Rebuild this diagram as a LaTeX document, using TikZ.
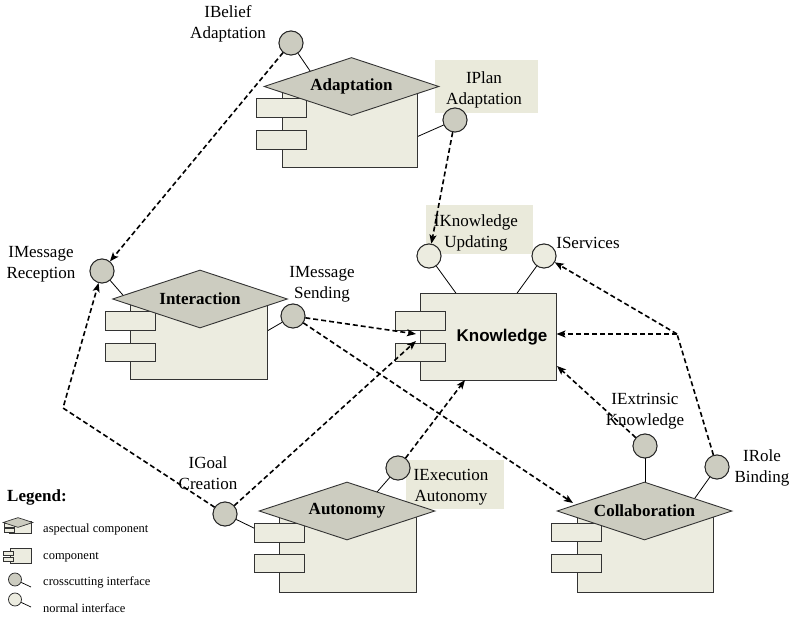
\documentclass[tikz,border=0pt]{standalone}
\usepackage{fontspec}
\setmainfont{Liberation Serif}
\newfontfamily\knowfont{Liberation Sans}
\usetikzlibrary{shapes.geometric,arrows.meta}

\definecolor{compfill}{RGB}{236,236,224}
\definecolor{aspfill}{RGB}{204,204,192}
\definecolor{boxfill}{RGB}{234,234,219}

\tikzset{
  lbl/.style={font=\fontsize{17}{21}\selectfont, align=center, inner sep=0pt},
  legtxt/.style={font=\fontsize{12.5}{15}\selectfont, anchor=west, inner sep=0pt},
  body/.style={draw=black!80, line width=0.9pt, fill=compfill, inner sep=0pt},
  port/.style={draw=black!80, line width=0.9pt, fill=compfill, inner sep=0pt,
               minimum width=50pt, minimum height=18.5pt},
  aspect roof/.style={diamond, aspect=3, draw=black!80, line width=0.9pt, fill=aspfill,
               inner sep=0pt, minimum width=175pt, minimum height=58pt,
               font=\fontsize{17}{21}\selectfont\bfseries},
  xiface/.style={circle, draw=black!85, line width=0.9pt, fill=aspfill,
               minimum size=24pt, inner sep=0pt},
  niface/.style={circle, draw=black!85, line width=0.9pt, fill=compfill,
               minimum size=24pt, inner sep=0pt},
  stub/.style={draw=black, line width=0.8pt},
  namebox/.style={fill=boxfill, inner sep=0pt},
  dep/.style={line width=1.6pt, dash pattern=on 5pt off 3pt,
              -{Stealth[length=9pt,width=7pt,inset=2pt]}},
  depline/.style={line width=1.6pt, dash pattern=on 5pt off 3pt},
}

\begin{document}
\begin{tikzpicture}[x=1pt,y=-1pt]
\useasboundingbox (0,0) rectangle (792,617);

% shaded name boxes behind some interface labels
\node[namebox, minimum width=103pt, minimum height=53pt] (bplan) at (486.5,86.5) {};
\node[namebox, minimum width=107pt, minimum height=49pt] (bknow) at (479.5,229.5) {};
\node[namebox, minimum width=98pt, minimum height=49pt] (bexec) at (455,484.5) {};

% interface circles (placed first so the stubs can refer to them)
\node[xiface] (bel)   at (291,43)  {};
\node[xiface] (ipl)   at (455,120) {};
\node[xiface] (mrec)  at (102,271) {};
\node[xiface] (msend) at (293,316) {};
\node[niface] (ikn)   at (429,256) {};
\node[niface] (isv)   at (544,256) {};
\node[xiface] (igoal) at (225,514) {};
\node[xiface] (iex)   at (398,468) {};
\node[xiface] (iext)  at (645,446) {};
\node[xiface] (irole) at (717,467) {};

% stubs joining interfaces to their components (ends hidden below the bodies)
\draw[stub] (bel)   -- (321,87);
\draw[stub] (ipl)   -- (412,139);
\draw[stub] (mrec)  -- (135,309);
\draw[stub] (msend) -- (262,334);
\draw[stub] (ikn)   -- (458,296);
\draw[stub] (isv)   -- (515,296);
\draw[stub] (igoal) -- (260,531);
\draw[stub] (iex)   -- (370,500);
\draw[stub] (iext)  -- (645,490);
\draw[stub] (irole) -- (690,505);

% Adaptation
\node[body, minimum width=135pt, minimum height=80pt] (adaB) at (349.5,127) {};
\node[port] (adaP1) at (281,108) {};
\node[port] (adaP2) at (281,140) {};
\node[aspect roof] (adaD) at (351.5,86.5) {Adaptation};

% Interaction
\node[body, minimum width=137pt, minimum height=80pt] (intB) at (198.5,339) {};
\node[port] (intP1) at (130.5,321) {};
\node[port] (intP2) at (130.5,352.5) {};
\node[aspect roof] (intD) at (200,299) {Interaction};

% Knowledge
\node[body, minimum width=136pt, minimum height=87pt] (knB) at (488,336.5) {};
\node[port] (knP1) at (420,321) {};
\node[port] (knP2) at (420,352.5) {};
\node[font=\fontsize{17}{21}\selectfont\knowfont\bfseries, inner sep=0pt] (knL) at (502,337) {Knowledge};

% Autonomy
\node[body, minimum width=137pt, minimum height=81pt] (autB) at (347.5,551.5) {};
\node[port] (autP1) at (279.5,533) {};
\node[port] (autP2) at (279.5,563.5) {};
\node[aspect roof, minimum width=176pt] (autD) at (347,511) {Autonomy};

% Collaboration
\node[body, minimum width=136pt, minimum height=81pt] (colB) at (645,551.5) {};
\node[port] (colP1) at (576.5,532.5) {};
\node[port] (colP2) at (576.5,563.5) {};
\node[aspect roof] (colD) at (644.5,511) {Collaboration};

% redraw circles above the bodies
\foreach \n/\s in {bel/xiface,ipl/xiface,mrec/xiface,msend/xiface,ikn/niface,
                   isv/niface,igoal/xiface,iex/xiface,iext/xiface,irole/xiface}
  \node[\s] at (\n) {};

% interface labels
\node[lbl] (tbel)   at (228,24)    {IBelief\\Adaptation};
\node[lbl] (tplan)  at (484,90)    {IPlan\\Adaptation};
\node[lbl] (tmrec)  at (41,264)    {IMessage\\Reception};
\node[lbl] (tmsend) at (322,284.5) {IMessage\\Sending};
\node[lbl] (tknow)  at (476,233)   {IKnowledge\\Updating};
\node[lbl] (tserv)  at (588,243)   {IServices};
\node[lbl] (text)   at (645,411)   {IExtrinsic\\Knowledge};
\node[lbl] (trole)  at (762,467.5) {IRole\\Binding};
\node[lbl] (tgoal)  at (208,473)   {IGoal\\Creation};
\node[lbl] (texec)  at (451,487.5) {IExecution\\Autonomy};

% dependency connectors
\coordinate (bendL) at (63,408);
\coordinate (J)     at (677,334);
\coordinate (kin1)  at (416,334);
\coordinate (kin2)  at (416,341);
\coordinate (kbot)  at (465,380);
\coordinate (kext)  at (557,366);
\coordinate (cin)   at (573,503);

\draw[dep] (bel) -- (mrec);
\draw[dep] (ipl) -- (ikn);
\draw[dep] (igoal) -- (bendL) -- (mrec);
\draw[dep] (msend) -- (kin1);
\draw[dep] (igoal) -- (kin2);
\draw[dep] (msend) -- (cin);
\draw[dep] (iex) -- (kbot);
\draw[dep] (iext) -- (kext);
\draw[depline] (irole) -- (J);
\draw[dep] (J) -- (J -| knB.east);
\draw[dep] (J) -- (isv);

% legend
\node[font=\fontsize{17}{21}\selectfont\bfseries, anchor=west, inner sep=0pt] (legT) at (7,497) {Legend:};

% aspectual component symbol
\node[draw=black!80, line width=0.7pt, fill=compfill, inner sep=0pt,
      minimum width=22pt, minimum height=12pt] (legA) at (20,527) {};
\node[draw=black!80, line width=0.7pt, fill=compfill, inner sep=0pt,
      minimum width=10pt, minimum height=4pt] (legA1) at (9,525) {};
\node[draw=black!80, line width=0.7pt, fill=compfill, inner sep=0pt,
      minimum width=10pt, minimum height=4pt] (legA2) at (9,530) {};
\node[diamond, aspect=3, draw=black!80, line width=0.7pt, fill=aspfill, inner sep=0pt,
      minimum width=30pt, minimum height=10pt] (legAD) at (18,522.5) {};
\node[legtxt] (legAt) at (43,529) {aspectual component};

% component symbol
\node[draw=black!80, line width=0.7pt, fill=compfill, inner sep=0pt,
      minimum width=21pt, minimum height=15pt] (legC) at (20.5,555.5) {};
\node[draw=black!80, line width=0.7pt, fill=compfill, inner sep=0pt,
      minimum width=10pt, minimum height=4pt] (legC1) at (8,553) {};
\node[draw=black!80, line width=0.7pt, fill=compfill, inner sep=0pt,
      minimum width=10pt, minimum height=4pt] (legC2) at (8,559) {};
\node[legtxt] (legCt) at (43,557) {component};

% crosscutting interface symbol
\node[circle, draw=black!85, line width=0.7pt, fill=aspfill, inner sep=0pt,
      minimum size=13pt] (legX) at (15,579.5) {};
\coordinate (legXe) at (31,587);
\draw[line width=0.7pt] (legX) -- (legXe);
\node[legtxt] (legXt) at (43,582) {crosscutting interface};

% normal interface symbol
\node[circle, draw=black!85, line width=0.7pt, fill=compfill, inner sep=0pt,
      minimum size=13pt] (legN) at (15,599.5) {};
\coordinate (legNe) at (31,607);
\draw[line width=0.7pt] (legN) -- (legNe);
\node[legtxt] (legNt) at (43,608) {normal interface};
\end{tikzpicture}
\end{document}
